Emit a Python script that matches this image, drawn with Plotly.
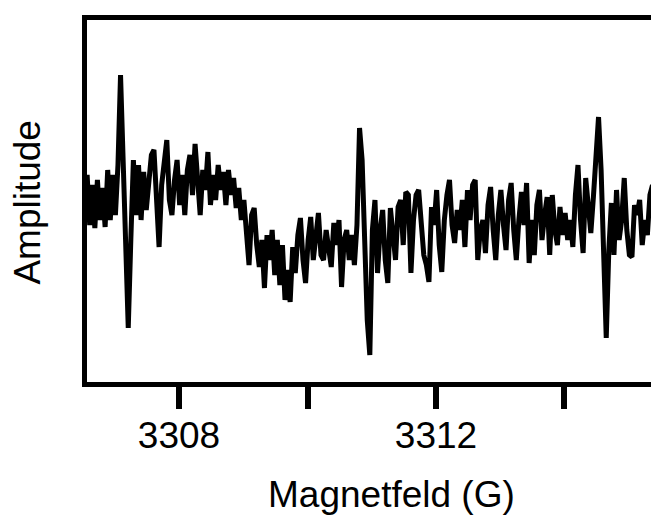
import plotly.graph_objects as go

# Field sweep (G): start and step of the recorded spectrum
FIELD_START = 3306.53
FIELD_STEP = 0.04

# Amplitude (arbitrary units), one row per gauss (25 points)
amp_row0 = [10, 25, -25, 15, -28, 20, -20, 12, -27, 30, -20, 25, -15, 35, 125, 40, -70, -128, -40, 40, -15, 35, -20, 28, -10]
amp_row1 = [20, 45, 50, -10, -47, 15, 35, 60, 0, -15, 20, 40, -5, 25, -15, 30, 45, 5, 56, 20, -15, 30, 10, 48, -5]
amp_row2 = [25, 0, 35, 10, 28, -5, 30, 5, 22, -8, 12, -20, 0, -35, -65, -15, -8, -45, -67, -40, -88, -35, -60, -30, -75]
amp_row3 = [-40, -85, -45, -100, -70, -102, -47, -73, -35, -18, -60, -83, -40, -17, -60, -30, -13, -55, -60, -30, -50, -67, -23, -45, -20]
amp_row4 = [-87, -40, -30, -60, -35, -65, -25, 72, 40, -40, -120, -155, -30, 0, -73, -30, -10, -60, -83, -8, -40, -60, -7, 0, -45]
amp_row5 = [8, 5, -73, -20, 5, 10, -30, -55, -65, -82, -7, -25, 10, -45, -72, -20, 5, 20, -25, -43, -10, -30, 0, -47, 10]
amp_row6 = [-20, 15, 20, -60, -30, -20, -53, -5, 13, -30, -60, -15, 10, -25, -50, 0, 17, -30, -60, -20, 8, -25, 17, -63, -20]
amp_row7 = [-55, -5, 10, -40, -15, 3, -55, 5, -30, -45, -7, -35, -13, -40, -20, -47, 5, 35, -20, -53, 22, -10, -33, 3, 40]
amp_row8 = [83, 30, -60, -138, -50, -3, -55, 10, -40, -20, 22, -30, -55, -57, -5, -15, 0, -45, -20, -35, 5, 15, -35, -10, -25]

amplitude = (amp_row0 + amp_row1 + amp_row2 + amp_row3 + amp_row4
             + amp_row5 + amp_row6 + amp_row7 + amp_row8)
field = [round(FIELD_START + FIELD_STEP * i, 3) for i in range(len(amplitude))]

tick_vals = [3308, 3310, 3312, 3314]
tick_text = ["3308", "", "3312", ""]

x_title = "Magnetfeld (G)"
y_title = "Amplitude"

FONT = "Liberation Sans, Arial, sans-serif"

fig = go.Figure()
fig.add_trace(go.Scatter(x=field, y=amplitude, mode="lines",
                         line=dict(color="black", width=5),
                         showlegend=False, hoverinfo="skip"))

# page body has an 8px default margin: figure sits at (8, 8) in the window
fig.update_layout(
    width=651, height=507,
    margin=dict(l=79, r=0, t=12, b=133),
    paper_bgcolor="white", plot_bgcolor="white",
    font=dict(family=FONT, size=37, color="black"),
    xaxis=dict(range=[3306.568, 3315.471], showline=True, linewidth=5,
               linecolor="black", mirror=True, showgrid=False, zeroline=False,
               tickmode="array", tickvals=tick_vals, ticktext=tick_text,
               ticks="outside", ticklen=22, tickwidth=6, tickcolor="black",
               ticklabelstandoff=-5,
               tickfont=dict(family=FONT, size=37, color="black")),
    yaxis=dict(range=[-182, 180], showline=True, linewidth=5,
               linecolor="black", mirror=False, showgrid=False, zeroline=False,
               showticklabels=False, ticks=""),
    annotations=[
        dict(text=x_title, xref="paper", yref="paper", x=0.533, y=-0.312,
             xanchor="center", yanchor="middle", showarrow=False,
             font=dict(family=FONT, size=37, color="black")),
        dict(text=y_title, xref="paper", yref="paper", x=-0.104, y=0.497,
             xanchor="center", yanchor="middle", textangle=-90, showarrow=False,
             font=dict(family=FONT, size=37, color="black")),
    ],
)

fig.write_html("out.html")
